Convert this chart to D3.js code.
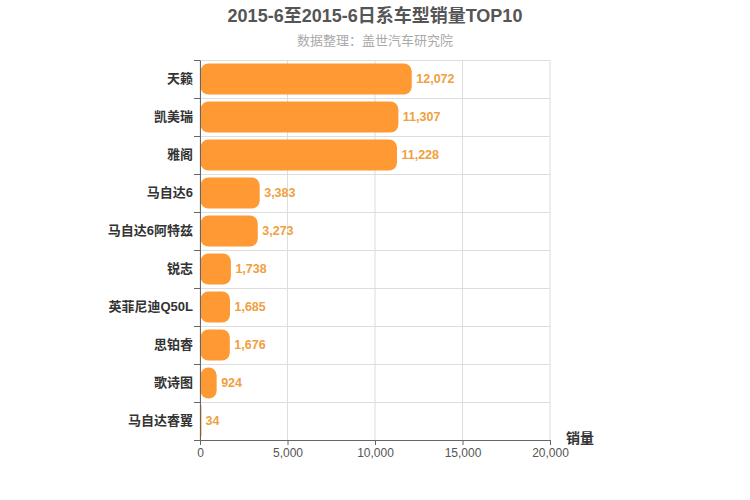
<!DOCTYPE html>
<html>
<head>
<meta charset="utf-8">
<script src="https://cdn.jsdelivr.net/npm/d3@7"></script>
<style>
  body { margin: 0; background: #fff; }
  text { font-family: "Liberation Sans", Arial, "Noto Sans CJK SC", sans-serif; }
</style>
</head>
<body>
<div id="chart"></div>
<script>
// car models, top to bottom
var models = ["天籁", "凯美瑞", "雅阁", "马自达6", "马自达6阿特兹", "锐志", "英菲尼迪Q50L", "思铂睿", "歌诗图", "马自达睿翼"];
var sales = [12072, 11307, 11228, 3383, 3273, 1738, 1685, 1676, 924, 34];
var xTicks = [0, 5000, 10000, 15000, 20000];

var width = 750, height = 500;
var margin = {top: 60, right: 200, bottom: 60, left: 200};
var plotW = width - margin.left - margin.right;
var plotH = height - margin.top - margin.bottom;

var svg = d3.select("#chart").append("svg")
  .attr("width", width)
  .attr("height", height);

// title + subtitle
svg.append("text")
  .attr("x", 375).attr("y", 22)
  .attr("text-anchor", "middle")
  .attr("font-size", "18px").attr("font-weight", "bold")
  .attr("fill", "#555")
  .text("2015-6至2015-6日系车型销量TOP10");

svg.append("text")
  .attr("x", 375).attr("y", 45)
  .attr("text-anchor", "middle")
  .attr("font-size", "13px")
  .attr("fill", "#aaa")
  .text("数据整理：盖世汽车研究院");

var g = svg.append("g")
  .attr("transform", "translate(" + margin.left + "," + margin.top + ")");

var x = d3.scaleLinear().domain([0, 20000]).range([0, plotW]);
var y = d3.scaleBand().domain(models).range([0, plotH]).paddingInner(0.18).paddingOuter(0.09);
var rows = d3.scaleBand().domain(models).range([0, plotH]);

// grid lines
g.selectAll(".vgrid").data(xTicks).enter().append("line")
  .attr("x1", d => x(d)).attr("x2", d => x(d))
  .attr("y1", 0).attr("y2", plotH)
  .attr("stroke", "#ddd");

var rowEdges = models.map(m => rows(m));
g.selectAll(".hgrid").data(rowEdges).enter().append("line")
  .attr("x1", 0).attr("x2", plotW)
  .attr("y1", d => d + 0.5).attr("y2", d => d + 0.5)
  .attr("stroke", "#ddd");

// bars
var bars = g.selectAll(".bar").data(models).enter().append("g");

bars.append("rect")
  .attr("x", 0.5)
  .attr("y", d => y(d))
  .attr("width", (d, i) => Math.max(x(sales[i]), 1))
  .attr("height", y.bandwidth())
  .attr("rx", (d, i) => Math.min(8, x(sales[i]) / 2))
  .attr("fill", "#ff9933");

bars.append("text")
  .attr("x", (d, i) => x(sales[i]) + 5)
  .attr("y", d => y(d) + y.bandwidth() / 2 + 4)
  .attr("font-size", "12.5px").attr("font-weight", "bold")
  .attr("fill", "#f0a040")
  .text((d, i) => d3.format(",")(sales[i]));

// y axis
var yAxis = d3.axisLeft(rows).tickSize(0).tickPadding(7);
var yG = g.append("g").call(yAxis);
yG.select(".domain").attr("stroke", "#666");
yG.selectAll("text")
  .attr("font-size", "13px").attr("font-weight", "bold")
  .attr("fill", "#333");

g.selectAll(".ytick").data(rowEdges.concat([plotH])).enter().append("line")
  .attr("x1", -6).attr("x2", 0)
  .attr("y1", d => d + 0.5).attr("y2", d => d + 0.5)
  .attr("stroke", "#666");

// x axis
var xAxis = d3.axisBottom(x).tickValues(xTicks).tickFormat(d3.format(",")).tickSize(5).tickSizeOuter(0);
var xG = g.append("g").attr("transform", "translate(0," + plotH + ")").call(xAxis);
xG.select(".domain").attr("stroke", "#666");
xG.selectAll(".tick line").attr("stroke", "#666");
xG.selectAll("text")
  .attr("font-size", "12px")
  .attr("fill", "#555");

svg.append("text")
  .attr("x", margin.left + plotW + 30).attr("y", margin.top + plotH + 3)
  .attr("text-anchor", "middle")
  .attr("font-size", "14px").attr("font-weight", "bold")
  .attr("fill", "#333")
  .text("销量");
</script>
</body>
</html>
